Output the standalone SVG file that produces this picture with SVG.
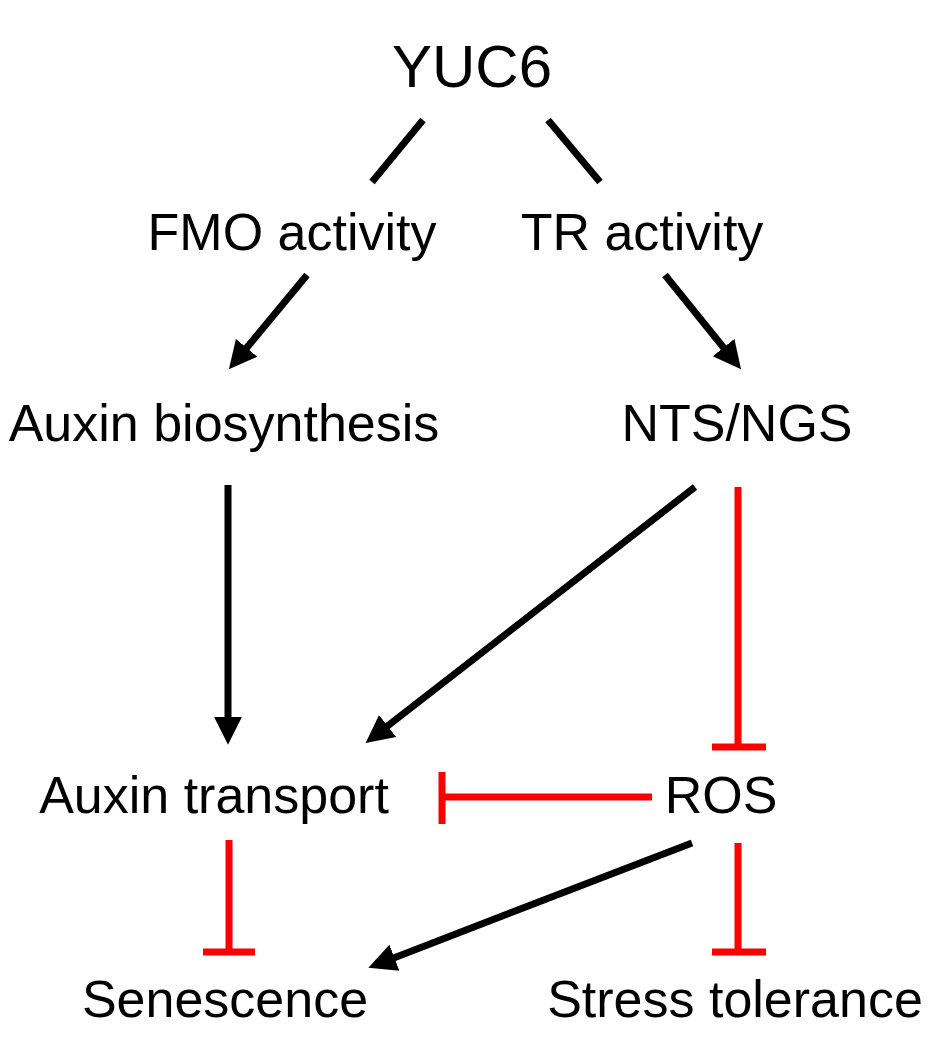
<svg xmlns="http://www.w3.org/2000/svg" width="950" height="1040" viewBox="0 0 950 1040">
<style>
text{font-family:"Liberation Sans",Arial,sans-serif;font-size:52px;fill:#000;text-anchor:middle}
.big{font-size:60px}
.act{stroke:#000;stroke-width:7;fill:none}
.inh{stroke:#f00;stroke-width:7;fill:none}
</style>
<defs>
<marker id="ah" markerUnits="userSpaceOnUse" markerWidth="30" markerHeight="30" viewBox="0 -14 28 28" refX="2" refY="0" orient="auto">
<path d="M0,-13 L26,0 L0,13 z" fill="#000"/>
</marker>
</defs>
<rect width="950" height="1040" fill="#fff"/>
<g id="yuc6"><text class="big" x="472" y="87">YUC6</text></g>
<g id="fmo"><text x="292" y="250">FMO activity</text></g>
<g id="tr"><text x="642" y="250">TR activity</text></g>
<g id="auxbio"><text x="224" y="441">Auxin biosynthesis</text></g>
<g id="nts"><text x="737" y="441">NTS/NGS</text></g>
<g id="auxtr"><text x="214" y="813">Auxin transport</text></g>
<g id="ros"><text x="721" y="813">ROS</text></g>
<g id="sen"><text x="225" y="1017">Senescence</text></g>
<g id="stress"><text x="735" y="1017">Stress tolerance</text></g>
<g id="connectors">
<line class="act" x1="423" y1="120" x2="372" y2="182"/>
<line class="act" x1="548" y1="120" x2="600" y2="182"/>
<line class="act" x1="307" y1="275" x2="245.3" y2="349.5" marker-end="url(#ah)"/>
<line class="act" x1="665" y1="275" x2="724.9" y2="349.3" marker-end="url(#ah)"/>
<line class="act" x1="228" y1="485" x2="228" y2="719" marker-end="url(#ah)"/>
<line class="act" x1="695" y1="487" x2="385.9" y2="727.3" marker-end="url(#ah)"/>
<line class="act" x1="692" y1="843" x2="392.4" y2="958.4" marker-end="url(#ah)"/>
<path class="inh" d="M738,487 V747 M712,747 H766"/>
<path class="inh" d="M652,797 H442 M442,772 V824"/>
<path class="inh" d="M229,840 V952 M203,952 H255"/>
<path class="inh" d="M738,843 V952 M712,952 H766"/>
</g>
</svg>
